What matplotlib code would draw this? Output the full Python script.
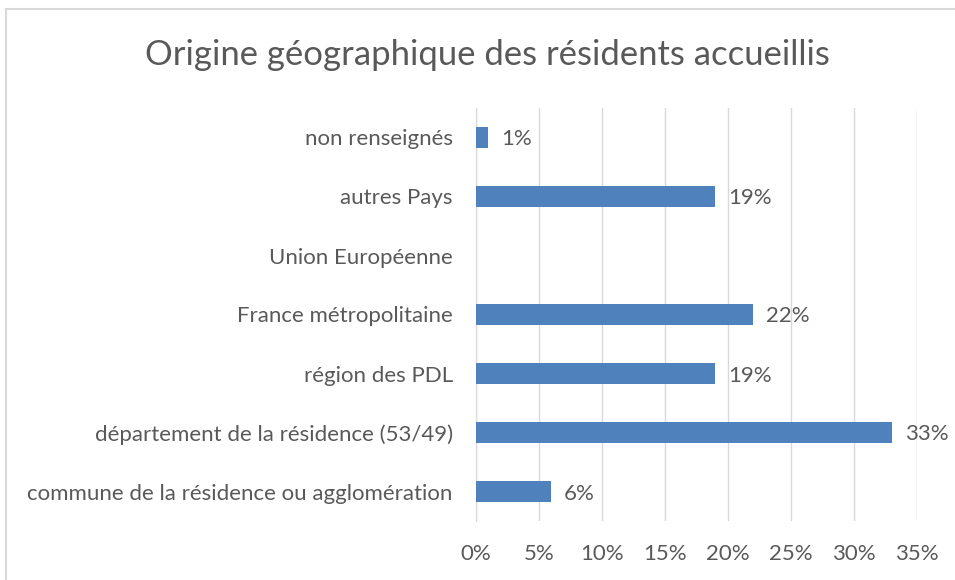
import matplotlib
matplotlib.use("Agg")
import matplotlib.pyplot as plt
from matplotlib.lines import Line2D

title = "Origine géographique des résidents accueillis"
categories = [
    "commune de la résidence ou agglomération",
    "département de la résidence (53/49)",
    "région des PDL",
    "France métropolitaine",
    "Union Européenne",
    "autres Pays",
    "non renseignés",
]
values = [6, 33, 19, 22, 0, 19, 1]
xticks = [0, 5, 10, 15, 20, 25, 30, 35]

plt.rcParams['font.family'] = ['Lato', 'DejaVu Sans']
TXT = "#595959"
GRID = "#D9D9D9"
BAR = "#4F81BD"
FS = 16

fig = plt.figure(figsize=(9.55, 5.8), dpi=100)
ax = fig.add_axes([475.7/955, 59/580, 441.6/955, 413/580])

ypos = list(range(len(categories)))
ax.barh(ypos, values, height=0.36, color=BAR, zorder=3)
for y, v in zip(ypos, values):
    if v > 0:
        ax.annotate(f"{v}%", xy=(v, y), xytext=(9, 0), textcoords="offset points",
                    va="center_baseline", ha="left", fontsize=FS, color=TXT)

ax.set_xlim(0, 35)
ax.set_ylim(-0.5, len(categories) - 0.5)
ax.set_xticks(xticks)
ax.set_xticklabels([f"{t}%" for t in xticks], fontsize=FS, color=TXT)
ax.set_yticks(ypos)
ax.set_yticklabels(categories, fontsize=FS, color=TXT)
ax.tick_params(axis='x', length=0, pad=16.5)
ax.tick_params(axis='y', length=0, pad=16.5)
ax.grid(axis='x', color=GRID, linewidth=1, zorder=0)
for s in ['top', 'right', 'bottom']:
    ax.spines[s].set_visible(False)
ax.spines['left'].set_color(GRID)
ax.spines['left'].set_zorder(1)

fig.text(487/955, 1 - 55/580, title, ha="center", va="center", fontsize=24.9,
         color=TXT)

# outer chart frame (partially visible)
fig.add_artist(Line2D([6/955, 1], [1 - 9/580, 1 - 9/580], color="#D9D9D9", lw=1.5,
                      transform=fig.transFigure))
fig.add_artist(Line2D([6/955, 6/955], [0, 1 - 9/580], color="#D9D9D9", lw=1.5,
                      transform=fig.transFigure))

fig.savefig("out.png", dpi=100)
